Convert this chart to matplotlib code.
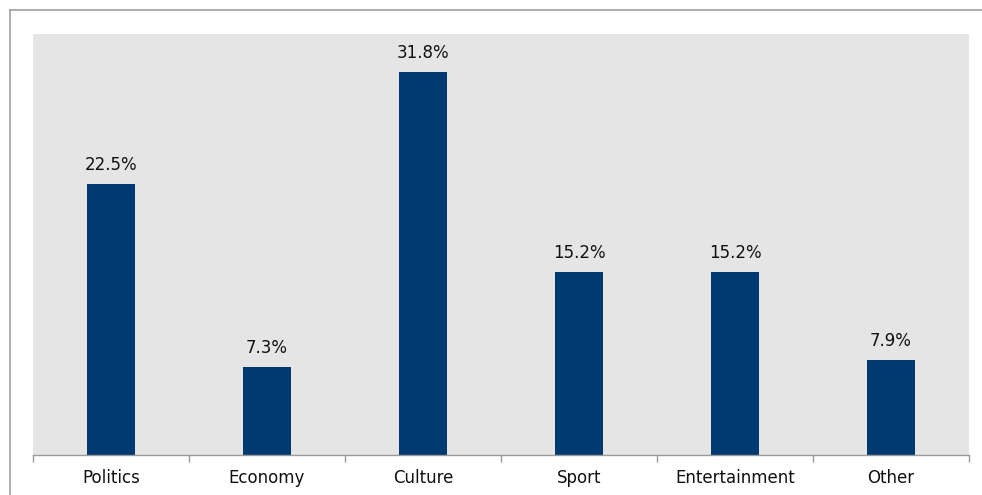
import matplotlib
matplotlib.use("Agg")
import matplotlib.pyplot as plt
from matplotlib.lines import Line2D

plt.rcParams["font.family"] = ["DejaVu Sans"]

categories = ["Politics", "Economy", "Culture", "Sport", "Entertainment", "Other"]
values = [22.5, 7.3, 31.8, 15.2, 15.2, 7.9]
labels = ["22.5%", "7.3%", "31.8%", "15.2%", "15.2%", "7.9%"]

W, H = 982, 495
fig = plt.figure(figsize=(W / 100, H / 100), dpi=100)
fig.patch.set_facecolor("white")

# outer frame lines
fig.add_artist(Line2D([10 / W, 10 / W], [0, 1 - 10 / H], color="#a0a0a0", lw=1.2))
fig.add_artist(Line2D([10 / W, 1], [1 - 10 / H, 1 - 10 / H], color="#a0a0a0", lw=1.2))

x0, x1, y0, y1 = 33, 969, 34, 455
ax = fig.add_axes([x0 / W, 1 - y1 / H, (x1 - x0) / W, (y1 - y0) / H])
ax.set_facecolor("#e5e5e5")

pos = list(range(len(categories)))
ax.bar(pos, values, width=0.31, color="#003a70", zorder=2)
for p, v, t in zip(pos, values, labels):
    ax.text(p, v + 0.85, t, ha="center", va="bottom", fontsize=12, color="#111111")

ax.set_xlim(-0.5, len(categories) - 0.5)
ax.set_ylim(0, 35)
ax.set_yticks([])
ax.set_xticks(pos)
ax.set_xticklabels(categories, fontsize=12, color="#111111")
ax.tick_params(axis="x", length=0, pad=10)
ax.set_xticks([p - 0.5 for p in pos] + [len(categories) - 0.5], minor=True)
ax.tick_params(axis="x", which="minor", length=5, color="#999999", width=1)
for s in ["top", "right", "left"]:
    ax.spines[s].set_visible(False)
ax.spines["bottom"].set_color("#999999")
ax.spines["bottom"].set_linewidth(1)

fig.savefig("out.png", dpi=100)
